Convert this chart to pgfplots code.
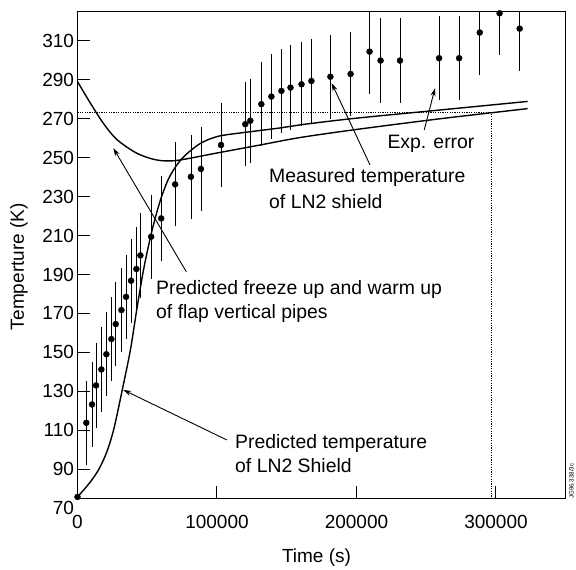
\documentclass[border=0pt]{standalone}
\usepackage{pgfplots}
\pgfplotsset{compat=1.18}
\usepackage{fontspec}
\setmainfont{Liberation Sans}
\usetikzlibrary{arrows.meta}

\pgfplotstableread{
x y
0 75.7
6300 113.8
10400 123.2
13300 133
17100 141.2
20700 149
24300 156.8
27400 164.5
31500 171.7
34800 178.5
38400 186.8
42200 192.8
45100 199.8
52800 209.4
60000 218.8
70000 236.3
81300 240.2
88500 244.2
102900 256.5
120300 267.2
123900 269
131800 277.5
139000 281.4
146200 284.3
152700 286
160600 287.7
167700 289.4
181300 291.6
195800 293
209400 304.5
217300 299.9
231200 299.9
259200 301.1
273600 301.1
288400 314.3
302600 324.2
317000 316.3
}\measured

\pgfplotstableread{
x y
0 75.7
8000 82.3
15000 89.5
21000 98.8
26000 110.5
31900 130
37900 151.1
42500 172
47500 193
53500 212.8
59500 228.3
65500 239.5
72000 247
78400 252
88000 257.3
97600 260.3
107200 261.8
145500 265.3
161000 267
200000 270.3
260000 274.5
322700 278.9
}\shield

\pgfplotstableread{
x y
0 289.1
8900 278.4
18500 267.7
28100 259.4
42500 252.3
56900 248.8
71300 248.6
100000 252.4
130000 256.4
160000 260.4
200000 264.5
260000 270
322700 275.2
}\pipes

\begin{document}
\begin{tikzpicture}
\useasboundingbox (-77.5pt,-71.7pt) rectangle (498.5pt,498.3pt);
\begin{axis}[
  at={(0pt,0pt)}, anchor=south west,
  width=488.2pt, height=486.6pt, scale only axis,
  xmin=0, xmax=350000, ymin=75, ymax=325,
  xtick={0,100000,200000,300000},
  ytick={90,110,...,310},
  scaled x ticks=false,
  xticklabel style={/pgf/number format/fixed, /pgf/number format/1000 sep={}, yshift=-13.5pt},
  /pgf/number format/assume math mode=true,
  tick align=inside, major tick length=12pt,
  xtick pos=bottom, ytick pos=left,
  axis line style={line width=1.2pt},
  every tick/.style={black, line width=1pt},
  font=\fontsize{19}{23.3}\selectfont,
  tick label style={font=\fontsize{19}{23.3}\selectfont},
  xlabel={Time (s)}, ylabel={Temperture (K)},
  xlabel style={at={(axis description cs:0.4896,-0.1215)}, anchor=center},
  ylabel style={at={(axis description cs:-0.1198,0.476)}, anchor=center},
  clip mode=individual,
]
\addplot[black, line width=1.4pt, smooth, tension=0.5] table {\shield};
\addplot[black, line width=1.4pt, smooth, tension=0.5] table {\pipes};
\addplot[black, line width=0.9pt, dash pattern=on 1.2pt off 1.2pt] coordinates {(0,273) (297000,273) (297000,75)};
\addplot[black, only marks, mark=*, mark size=3pt,
  error bars/.cd, y dir=both, y fixed=20,
  error bar style={line width=0.8pt},
  error mark options={black, mark size=3.2pt, line width=0.8pt}] table {\measured};

\draw[-{Stealth[length=8pt,width=5pt]}, line width=0.9pt] (axis cs:78000,191.4) -- (axis cs:25700,254.9);
\draw[-{Stealth[length=8pt,width=5pt]}, line width=0.9pt] (axis cs:209700,246.3) -- (axis cs:182200,288.3);
\draw[-{Stealth[length=8pt,width=5pt]}, line width=0.9pt] (axis cs:248600,264.3) -- (axis cs:256300,285.7);
\draw[-{Stealth[length=8pt,width=5pt]}, line width=0.9pt] (axis cs:107000,105) -- (axis cs:32800,130.7);

\node[anchor=east, inner sep=0.3333em] at (axis cs:0,70) {70};
\end{axis}
\begin{scope}[font=\fontsize{19.4}{23.3}\selectfont]
\node[anchor=base west, inner sep=0, align=left] at (78.5pt,180pt) {Predicted freeze up and warm up\\of flap vertical pipes};
\node[anchor=base west, inner sep=0, align=left] at (157.5pt,26pt) {Predicted temperature\\of LN2 Shield};
\node[anchor=base west, inner sep=0, align=left, font=\fontsize{19.4}{26}\selectfont] at (191.5pt,289.3pt) {Measured temperature\\of LN2 shield};
\node[anchor=base west, inner sep=0] at (309.8pt,349.3pt) {Exp. error};
\end{scope}
\node[rotate=90, inner sep=0, font=\fontsize{6.2}{7}\selectfont] at (494pt,17pt) {JG96.338/3c};
\end{tikzpicture}
\end{document}
